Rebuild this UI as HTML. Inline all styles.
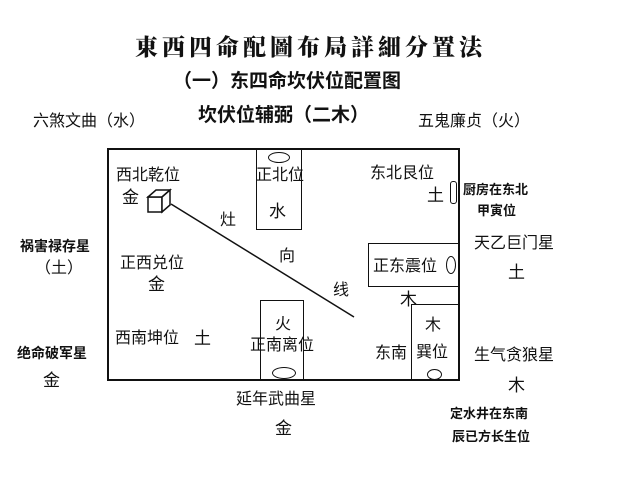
<!DOCTYPE html>
<html><head><meta charset="utf-8"><style>
body{margin:0;width:628px;height:480px;background:#fff;position:relative;overflow:hidden;font-family:"Liberation Sans","Noto Sans CJK SC",sans-serif;color:#111}
.t{position:absolute;white-space:nowrap;line-height:1}
.b{position:absolute;border:1.5px solid #111;box-sizing:border-box}
.e{position:absolute;border:1.5px solid #111;border-radius:50%;box-sizing:border-box}
</style></head><body>
<div class="t" style="left:135px;top:34px;font-size:23px;font-weight:900;font-family:'Noto Serif CJK SC',serif;letter-spacing:4px">東西四命配圖布局詳細分置法</div>
<div class="t" style="left:173px;top:72px;font-size:19px;font-weight:bold">（一）东四命坎伏位配置图</div>
<div class="t" style="left:198px;top:106px;font-size:19px;font-weight:bold">坎伏位辅弼（二木）</div>
<div class="t" style="left:33px;top:114px;font-size:16px">六煞文曲（水）</div>
<div class="t" style="left:418px;top:114px;font-size:16px">五鬼廉贞（火）</div>

<div class="b" style="left:107px;top:148px;width:353px;height:233px;border-width:2px"></div>
<div class="b" style="left:256px;top:148px;width:46px;height:82px"></div>
<div class="e" style="left:268px;top:152px;width:22px;height:11px"></div>
<div class="b" style="left:368px;top:243px;width:92px;height:44px"></div>
<div class="e" style="left:446px;top:256px;width:10px;height:18px"></div>
<div class="b" style="left:260px;top:300px;width:44px;height:81px"></div>
<div class="e" style="left:272px;top:367px;width:24px;height:12px"></div>
<div class="b" style="left:411px;top:304px;width:49px;height:77px"></div>
<div class="e" style="left:427px;top:369px;width:15px;height:11px"></div>
<div class="b" style="left:450px;top:181px;width:7px;height:23px;border-radius:3px"></div>
<svg style="position:absolute;left:0;top:0" width="628" height="480">
<g fill="#fff" stroke="#111" stroke-width="1.5">
<polygon points="148,197 162,197 162,212 148,212"/>
<polygon points="148,197 156,190 170,190 162,197"/>
<polygon points="162,197 170,190 170,205 162,212"/>
</g>
<line x1="171" y1="204" x2="354" y2="317" stroke="#111" stroke-width="1.5"/>
</svg>
<div class="t" style="left:116px;top:168px;font-size:16px">西北乾位</div>
<div class="t" style="left:122px;top:189px;font-size:17px">金</div>
<div class="t" style="left:256px;top:168px;font-size:16px">正北位</div>
<div class="t" style="left:269px;top:203px;font-size:17px">水</div>
<div class="t" style="left:370px;top:166px;font-size:16px">东北艮位</div>
<div class="t" style="left:427px;top:187px;font-size:17px">土</div>
<div class="t" style="left:220px;top:213px;font-size:16px">灶</div>
<div class="t" style="left:279px;top:249px;font-size:16px">向</div>
<div class="t" style="left:333px;top:283px;font-size:16px">线</div>
<div class="t" style="left:120px;top:256px;font-size:16px">正西兑位</div>
<div class="t" style="left:148px;top:276px;font-size:17px">金</div>
<div class="t" style="left:373px;top:259px;font-size:16px">正东震位</div>
<div class="t" style="left:400px;top:291px;font-size:17px">木</div>
<div class="t" style="left:275px;top:317px;font-size:16px">火</div>
<div class="t" style="left:250px;top:338px;font-size:16px">正南离位</div>
<div class="t" style="left:115px;top:331px;font-size:16px">西南坤位</div>
<div class="t" style="left:194px;top:330px;font-size:17px">土</div>
<div class="t" style="left:425px;top:318px;font-size:16px">木</div>
<div class="t" style="left:416px;top:345px;font-size:16px">巽位</div>
<div class="t" style="left:375px;top:346px;font-size:16px">东南</div>

<div class="t" style="left:463px;top:183px;font-size:13px;font-weight:bold">厨房在东北</div>
<div class="t" style="left:477px;top:204px;font-size:13px;font-weight:bold">甲寅位</div>
<div class="t" style="left:474px;top:236px;font-size:16px">天乙巨门星</div>
<div class="t" style="left:508px;top:264px;font-size:17px">土</div>
<div class="t" style="left:474px;top:348px;font-size:16px">生气贪狼星</div>
<div class="t" style="left:508px;top:377px;font-size:17px">木</div>
<div class="t" style="left:450px;top:407px;font-size:13px;font-weight:bold">定水井在东南</div>
<div class="t" style="left:452px;top:430px;font-size:13px;font-weight:bold">辰已方长生位</div>

<div class="t" style="left:20px;top:239px;font-size:14px;font-weight:bold">祸害禄存星</div>
<div class="t" style="left:35px;top:261px;font-size:16px">（土）</div>
<div class="t" style="left:17px;top:346px;font-size:14px;font-weight:bold">绝命破军星</div>
<div class="t" style="left:43px;top:372px;font-size:17px">金</div>
<div class="t" style="left:236px;top:392px;font-size:16px">延年武曲星</div>
<div class="t" style="left:275px;top:420px;font-size:17px">金</div>
</body></html>
